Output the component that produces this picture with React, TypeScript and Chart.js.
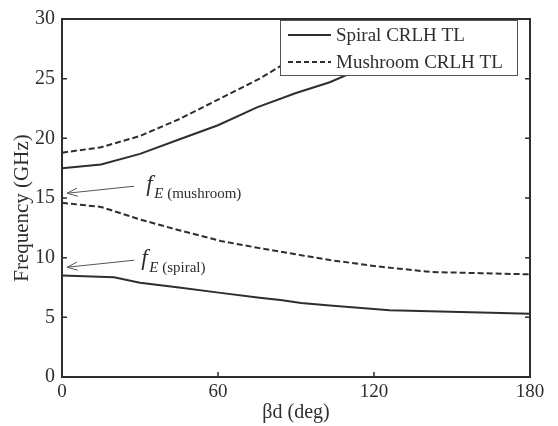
import React, { useEffect, useRef } from "react";
import { Chart, registerables } from "chart.js";

Chart.register(...registerables);

// ---- data ----
const spiralUpperDeg = [0, 15, 30, 45, 60, 75, 90, 103, 120, 135, 150];
const spiralUpperGHz = [17.5, 17.8, 18.7, 19.9, 21.1, 22.6, 23.8, 24.7, 26.3, 27.8, 29.3];

const spiralLowerDeg = [0, 20, 30, 45, 61, 76, 84, 92, 103, 126, 161, 180];
const spiralLowerGHz = [8.5, 8.35, 7.9, 7.5, 7.05, 6.65, 6.45, 6.2, 6.0, 5.6, 5.4, 5.3];

const mushroomUpperDeg = [0, 15, 30, 45, 61, 76, 84, 100, 112, 124];
const mushroomUpperGHz = [18.8, 19.25, 20.2, 21.6, 23.35, 25.0, 26.05, 27.6, 28.8, 30];

const mushroomLowerDeg = [0, 15, 30, 45, 61, 76, 92, 103, 122, 142, 161, 180];
const mushroomLowerGHz = [14.6, 14.25, 13.2, 12.3, 11.4, 10.8, 10.2, 9.8, 9.25, 8.8, 8.7, 8.6];

const xTickValues = [0, 60, 120, 180];
const yTickValues = [0, 5, 10, 15, 20, 25, 30];

const legendLabels = ["Spiral CRLH TL", "Mushroom CRLH TL"];
const xTitle = "βd (deg)";
const yTitle = "Frequency (GHz)";

// annotations: subscript label and the value the arrow points at
const annotationNames = ["(mushroom)", "(spiral)"];
const annotationTipGHz = [15.4, 9.2];
const annotationTipDeg = [2, 2];

const INK = "#2e2e2e";
const SERIF = "'Liberation Serif', 'Times New Roman', serif";

function pts(xs: number[], ys: number[]) {
  return xs.map((x, i) => ({ x, y: ys[i] }));
}

const framePlugin = {
  id: "framePlugin",
  afterDatasetsDraw(chart: any) {
    const { ctx, chartArea } = chart;
    const { left, right, top, bottom } = chartArea;
    const xs = chart.scales.x;
    const ys = chart.scales.y;
    ctx.save();
    ctx.strokeStyle = INK;
    ctx.lineWidth = 2;
    ctx.strokeRect(left, top, right - left, bottom - top);
    ctx.beginPath();
    ctx.lineWidth = 1.5;
    yTickValues.forEach((v) => {
      const py = ys.getPixelForValue(v);
      ctx.moveTo(left, py);
      ctx.lineTo(left + 5, py);
      ctx.moveTo(right, py);
      ctx.lineTo(right - 5, py);
    });
    xTickValues.forEach((v) => {
      const px = xs.getPixelForValue(v);
      ctx.moveTo(px, bottom);
      ctx.lineTo(px, bottom - 5);
    });
    ctx.stroke();

    // y axis title
    ctx.save();
    ctx.translate(22, 208);
    ctx.rotate(-Math.PI / 2);
    ctx.font = `21px ${SERIF}`;
    ctx.fillStyle = INK;
    ctx.textAlign = "center";
    ctx.textBaseline = "middle";
    ctx.fillText(yTitle, 0, 0);
    ctx.restore();

    // legend box
    const bx = 280, by = 20, bw = 237, bh = 55;
    ctx.fillStyle = "#ffffff";
    ctx.fillRect(bx, by, bw, bh);
    ctx.lineWidth = 1;
    ctx.strokeStyle = "#555555";
    ctx.strokeRect(bx + 0.5, by + 0.5, bw, bh);
    ctx.font = `19px ${SERIF}`;
    ctx.fillStyle = INK;
    ctx.textBaseline = "middle";
    ctx.textAlign = "left";
    const rows = [35, 62];
    legendLabels.forEach((lab, i) => {
      ctx.beginPath();
      ctx.strokeStyle = INK;
      ctx.lineWidth = 2;
      ctx.setLineDash(i === 1 ? [5, 3] : []);
      ctx.moveTo(288, rows[i]);
      ctx.lineTo(331, rows[i]);
      ctx.stroke();
      ctx.setLineDash([]);
      ctx.fillText(lab, 336, rows[i] + 1);
    });

    // annotations
    annotationNames.forEach((name, i) => {
      const tx = xs.getPixelForValue(annotationTipDeg[i]);
      const ty = ys.getPixelForValue(annotationTipGHz[i]);
      const tailX = tx + 67;
      const tailY = ty - 7;
      ctx.strokeStyle = "#555555";
      ctx.lineWidth = 1;
      ctx.beginPath();
      ctx.moveTo(tailX, tailY);
      ctx.lineTo(tx, ty);
      const ang = Math.atan2(tailY - ty, tailX - tx);
      const len = 11;
      const spread = 0.38;
      ctx.moveTo(tx + len * Math.cos(ang + spread), ty + len * Math.sin(ang + spread));
      ctx.lineTo(tx, ty);
      ctx.lineTo(tx + len * Math.cos(ang - spread), ty + len * Math.sin(ang - spread));
      ctx.stroke();

      const fx = tx + (i === 0 ? 79 : 74);
      ctx.fillStyle = INK;
      ctx.textBaseline = "alphabetic";
      ctx.font = `italic 23px ${SERIF}`;
      ctx.fillText("f", fx, ty - 2);
      ctx.font = `italic 15px ${SERIF}`;
      ctx.fillText("E", fx + 8, ty + 5);
      ctx.font = `15px ${SERIF}`;
      ctx.fillText(name, fx + 21, ty + 5);
    });
    ctx.restore();
  },
};

export default function App() {
  const canvasRef = useRef<HTMLCanvasElement | null>(null);

  useEffect(() => {
    if (!canvasRef.current) return;
    const lineCommon = {
      showLine: true,
      pointRadius: 0,
      borderColor: INK,
      borderWidth: 2,
      tension: 0,
      fill: false,
    };
    const chart = new Chart(canvasRef.current, {
      type: "scatter",
      data: {
        datasets: [
          { ...lineCommon, label: legendLabels[0], data: pts(spiralUpperDeg, spiralUpperGHz) },
          { ...lineCommon, label: legendLabels[0] + " lower", data: pts(spiralLowerDeg, spiralLowerGHz) },
          { ...lineCommon, label: legendLabels[1], borderDash: [6, 3], data: pts(mushroomUpperDeg, mushroomUpperGHz) },
          { ...lineCommon, label: legendLabels[1] + " lower", borderDash: [6, 3], data: pts(mushroomLowerDeg, mushroomLowerGHz) },
        ],
      },
      options: {
        animation: false,
        responsive: true,
        maintainAspectRatio: false,
        layout: { padding: { top: 15, right: 28, left: 0, bottom: 0 } },
        plugins: {
          legend: { display: false },
          tooltip: { enabled: false },
        },
        scales: {
          x: {
            type: "linear",
            min: 0,
            max: 180,
            afterBuildTicks: (s: any) => {
              s.ticks = xTickValues.map((v) => ({ value: v }));
            },
            afterFit: (s: any) => {
              s.height = 49;
            },
            grid: { display: false, drawTicks: false },
            border: { display: false },
            ticks: {
              padding: 4,
              color: INK,
              font: { family: SERIF, size: 19 },
              maxRotation: 0,
            },
            title: {
              display: true,
              text: xTitle,
              color: INK,
              font: { family: SERIF, size: 20 },
              padding: { top: 0, bottom: 1 },
            },
          },
          y: {
            type: "linear",
            min: 0,
            max: 30,
            afterBuildTicks: (s: any) => {
              s.ticks = yTickValues.map((v) => ({ value: v }));
            },
            afterFit: (s: any) => {
              s.width = 62;
            },
            grid: { display: false, drawTicks: false },
            border: { display: false },
            ticks: {
              padding: 7,
              color: INK,
              font: { family: SERIF, size: 20 },
            },
            title: { display: false },
          },
        },
      },
      plugins: [framePlugin],
    } as any);
    return () => chart.destroy();
  }, []);

  return (
    <div style={{ position: "fixed", left: 0, top: 0, width: 558, height: 426, background: "#ffffff" }}>
      <canvas ref={canvasRef} />
    </div>
  );
}
